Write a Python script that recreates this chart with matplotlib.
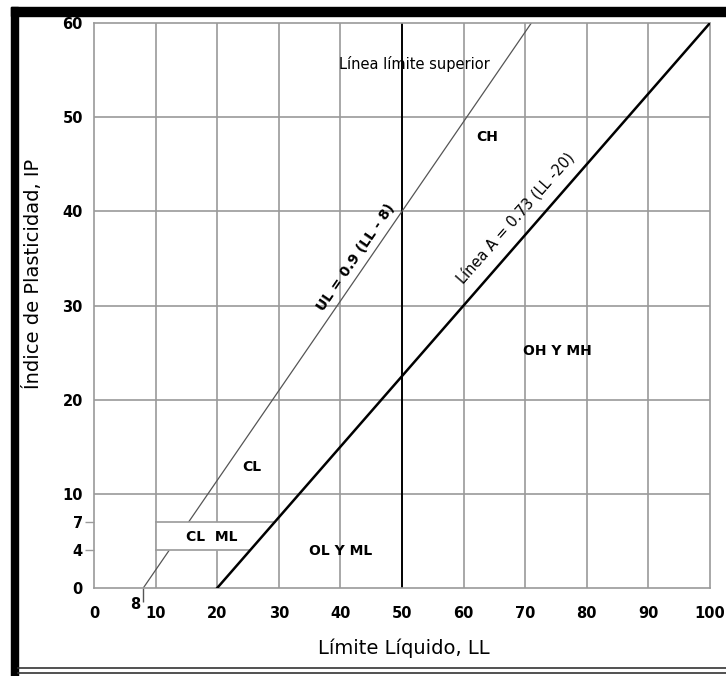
import matplotlib
matplotlib.use("Agg")
import matplotlib.pyplot as plt
from matplotlib.patches import Rectangle, Polygon
from matplotlib.lines import Line2D

# ejes
x_ticks = [0, 10, 20, 30, 40, 50, 60, 70, 80, 90, 100]
y_ticks = [0, 10, 20, 30, 40, 50, 60]
y_minor = [4, 7]
x_grid = [10, 20, 30, 40, 60, 70, 80, 90]
y_grid = [10, 20, 30, 40, 50]

# lineas
u_ll = [8, 71]
u_ip = [0, 60]
a_ll = [20, 100]
a_ip = [0, 60]

# zona CL-ML
box_ll = [10, 25.33, 29.33, 10]
box_ip = [4, 4, 7, 7]

# etiquetas de zonas
zonas = ["Línea límite superior", "CH", "OH Y MH", "CL", "CL  ML", "OL Y ML"]
zona_ll = [52, 63.8, 75.3, 25.6, 19.1, 40.1]
zona_ip = [55.6, 47.9, 25.2, 12.8, 5.4, 3.9]
zona_bold = [False, True, True, True, True, True]

W, H = 726, 676
fig = plt.figure(figsize=(W / 100, H / 100), dpi=100)
ax = fig.add_axes([94 / W, 1 - 588 / H, (710 - 94) / W, (588 - 23) / H])
ax.set_xlim(0, 100)
ax.set_ylim(0, 60)

gris = "#9a9a9a"
for s in ax.spines.values():
    s.set_color(gris)
    s.set_linewidth(1.2)

# cuadricula
ax.vlines(x_grid, 0, 60, color=gris, lw=1.2, zorder=1)
ax.vlines([50], 0, 60, color="black", lw=1.4, zorder=1.5)
ax.hlines(y_grid, 0, 100, color=gris, lw=1.2, zorder=1)

# linea U
ax.plot(u_ll, u_ip, color="#555555", lw=0.9, zorder=2)
# zona CL-ML
box = Polygon(list(zip(box_ll, box_ip)), closed=True, facecolor="white",
              edgecolor="none", zorder=3)
ax.add_patch(box)
ax.plot(box_ll[:2], box_ip[:2], color=gris, lw=1.2, zorder=3.5)
ax.plot(box_ll[2:], box_ip[2:], color=gris, lw=1.2, zorder=3.5)
ax.plot([box_ll[0], box_ll[3]], [box_ip[0], box_ip[3]], color=gris, lw=1.2,
        zorder=3.5)
# linea A
ax.plot(a_ll, a_ip, color="black", lw=1.8, zorder=4)

# ticks
ax.set_xticks(x_ticks)
ax.set_xticklabels([str(v) for v in x_ticks])
ax.set_yticks(y_ticks)
ax.set_yticklabels([str(v) for v in y_ticks])
ax.set_yticks(y_minor, minor=True)
ax.set_yticklabels([str(v) for v in y_minor], minor=True)
ax.set_xticks([8], minor=True)
ax.tick_params(axis="x", which="major", length=0, pad=13, labelsize=10.5)
ax.tick_params(axis="x", which="minor", length=10, width=1, color="#555555",
               labelbottom=False)
ax.tick_params(axis="y", which="major", length=0, pad=8, labelsize=10.5)
ax.tick_params(axis="y", which="minor", length=6.5, width=1, color=gris,
               pad=1.5, labelsize=10.5)
for lab in ax.get_xticklabels() + ax.get_yticklabels() + ax.get_yticklabels(minor=True):
    lab.set_fontweight("bold")
ax.text(6.65, -1.8, "8", ha="center", va="center", fontsize=10.5,
        fontweight="bold", clip_on=False)

# textos de zonas
for t, xx, yy, b in zip(zonas, zona_ll, zona_ip, zona_bold):
    ax.text(xx, yy, t, ha="center", va="center",
            fontsize=10 if b else 10.5, fontweight="bold" if b else "normal",
            zorder=5)
ax.text(42.5, 35.1, "UL = 0.9 (LL - 8)", rotation=55.5, ha="center",
        va="center", fontsize=10, fontweight="bold", zorder=5,
        rotation_mode="anchor")
ax.text(68.5, 39.3, "Línea A = 0.73 (LL -20)", rotation=48.5, ha="center",
        va="center", fontsize=10.5, zorder=5, rotation_mode="anchor")

# titulos de ejes
fig.text(404 / W, 1 - 648 / H, "Límite Líquido, LL", ha="center",
         va="center", fontsize=14)
fig.text(33 / W, 1 - 274 / H, "Índice de Plasticidad, IP", ha="center",
         va="center", fontsize=14, rotation=90)

# marco
fig.add_artist(Rectangle((11 / W, 1 - 16 / H), (W - 11) / W, 9 / H,
                         transform=fig.transFigure, color="black", zorder=10))
fig.add_artist(Rectangle((11 / W, 0), 7 / W, 1 - 7 / H,
                         transform=fig.transFigure, color="black", zorder=10))
for yy in [668, 673]:
    fig.add_artist(Line2D([18 / W, 1], [1 - yy / H, 1 - yy / H],
                          transform=fig.transFigure, color="#333333",
                          lw=1.2, zorder=10))

fig.savefig("out.png", dpi=100)
